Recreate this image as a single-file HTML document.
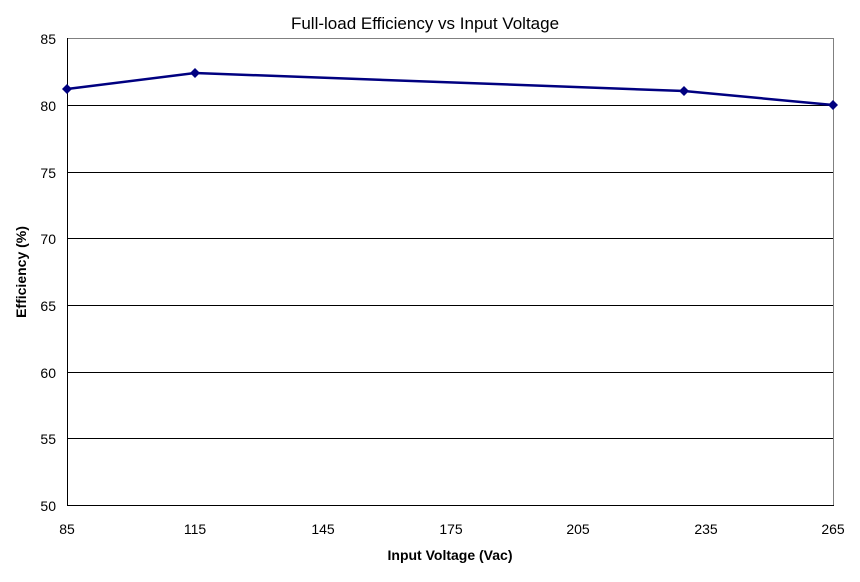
<!DOCTYPE html>
<html><head><style>body{margin:0;background:#fff}</style></head><body>
<svg width="860" height="577" xmlns="http://www.w3.org/2000/svg" font-family="Liberation Sans, sans-serif">
<rect width="860" height="577" fill="#fff"/>
<text x="425" y="29" font-size="17" text-anchor="middle">Full-load Efficiency vs Input Voltage</text>
<line x1="67" y1="38.5" x2="833" y2="38.5" stroke="#808080"/>
<line x1="833.5" y1="38" x2="833.5" y2="505" stroke="#808080"/>
<g stroke="#000" stroke-width="1">
<line x1="67" y1="105.5" x2="833" y2="105.5"/>
<line x1="67" y1="172.5" x2="833" y2="172.5"/>
<line x1="67" y1="238.5" x2="833" y2="238.5"/>
<line x1="67" y1="305.5" x2="833" y2="305.5"/>
<line x1="67" y1="372.5" x2="833" y2="372.5"/>
<line x1="67" y1="438.5" x2="833" y2="438.5"/>
<line x1="67" y1="505.5" x2="834" y2="505.5"/>
<line x1="67.5" y1="38" x2="67.5" y2="505"/>
</g>
<g font-size="14" text-anchor="end">
<text x="56" y="44">85</text><text x="56" y="111">80</text><text x="56" y="178">75</text>
<text x="56" y="244">70</text><text x="56" y="311">65</text><text x="56" y="378">60</text>
<text x="56" y="444">55</text><text x="56" y="511">50</text>
</g>
<g font-size="14" text-anchor="middle">
<text x="67" y="534">85</text><text x="195" y="534">115</text><text x="323" y="534">145</text>
<text x="451" y="534">175</text><text x="578" y="534">205</text><text x="706" y="534">235</text><text x="833" y="534">265</text>
</g>
<text x="450" y="560" font-size="14" font-weight="bold" text-anchor="middle">Input Voltage (Vac)</text>
<text transform="translate(26,272) rotate(-90)" font-size="14" font-weight="bold" text-anchor="middle">Efficiency (%)</text>
<polyline points="67,89 195,73 684,91 833,105" fill="none" stroke="#000080" stroke-width="2.5"/>
<g fill="#000080">
<path d="M67,84 L72,89 L67,94 L62,89Z"/><path d="M195,68 L200,73 L195,78 L190,73Z"/>
<path d="M684,86 L689,91 L684,96 L679,91Z"/><path d="M833,100 L838,105 L833,110 L828,105Z"/>
</g>
</svg>
</body></html>
